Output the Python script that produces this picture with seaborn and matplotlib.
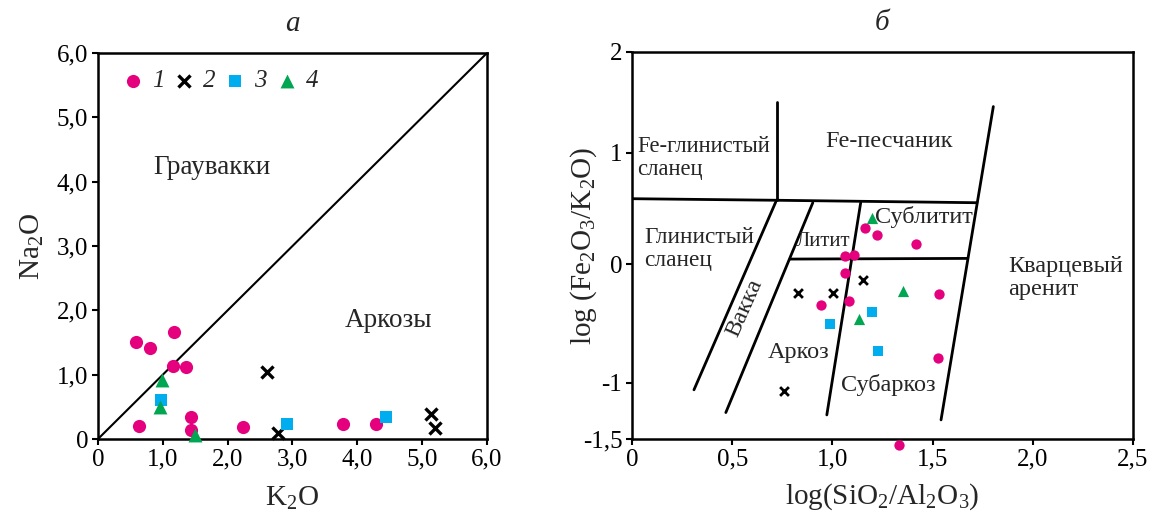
import numpy as np
import pandas as pd
import seaborn as sns
import matplotlib
matplotlib.use("Agg")
from matplotlib import pyplot as plt

sns.set_theme(style="ticks")
plt.rcParams['font.family'] = ['Liberation Serif', 'DejaVu Serif']
plt.rcParams['mathtext.fontset'] = 'custom'
plt.rcParams['mathtext.rm'] = 'Liberation Serif'
plt.rcParams['mathtext.it'] = 'Liberation Serif:italic'

PINK = "#E5007D"
CYAN = "#00AEEF"
GREEN = "#00A651"

# --- panel a: K2O vs Na2O ---
k2o_1 = [0.59, 0.80, 1.18, 1.15, 1.36, 0.63, 1.43, 1.44, 2.23, 3.78, 4.29]
na2o_1 = [1.51, 1.41, 1.66, 1.14, 1.12, 0.20, 0.34, 0.14, 0.19, 0.23, 0.24]
k2o_2 = [2.61, 2.77, 5.14, 5.20]
na2o_2 = [1.04, 0.10, 0.39, 0.17]
k2o_3 = [0.97, 2.92, 4.44]
na2o_3 = [0.61, 0.23, 0.34]
k2o_4 = [0.99, 0.96, 1.50]
na2o_4 = [0.92, 0.49, 0.06]

# --- panel b: log(SiO2/Al2O3) vs log(Fe2O3/K2O) ---
si_1 = [1.163, 1.224, 1.419, 1.064, 1.109, 1.061, 1.081, 0.943, 1.533, 1.527, 1.332]
fe_1 = [0.327, 0.264, 0.180, 0.072, 0.084, -0.074, -0.308, -0.342, -0.254, -0.791, -1.554]
si_2 = [0.830, 1.003, 1.151, 0.757]
fe_2 = [-0.240, -0.240, -0.136, -1.078]
si_3 = [0.987, 1.199, 1.229]
fe_3 = [-0.506, -0.407, -0.729]
si_4 = [1.199, 1.354, 1.134]
fe_4 = [0.414, -0.229, -0.466]

# field boundaries of the Herron diagram (x pairs, y pairs)
bounds_x = [[0.0, 0.722], [0.722, 1.721], [0.722, 0.722], [1.803, 1.542],
            [0.717, 0.309], [0.902, 0.468], [1.141, 0.972], [0.788, 1.675]]
bounds_y = [[0.586, 0.572], [0.572, 0.550], [1.507, 0.572], [1.457, -1.330],
            [0.556, -1.063], [0.550, -1.265], [0.550, -1.286], [0.045, 0.051]]

# the original y axis is drawn unevenly; reproduce its tick spacing
y_knots = [-3.0, -1.5, -1.0, 0.0, 1.0, 2.0, 4.0]
y_pos = [-168, 0, 56, 174, 285, 385, 585]


def fwd(v):
    return np.interp(v, y_knots, y_pos)


def inv(u):
    return np.interp(u, y_pos, y_knots)


groups = [("1", "o", PINK), ("2", "X", "black"), ("3", "s", CYAN), ("4", "^", GREEN)]

fig = plt.figure(figsize=(11.54, 5.23), dpi=100)
ax1 = fig.add_axes([0.0849, 0.1606, 0.3371, 0.738])
ax2 = fig.add_axes([0.5477, 0.1606, 0.4341, 0.740])

# panel a
data_a = [(k2o_1, na2o_1), (k2o_2, na2o_2), (k2o_3, na2o_3), (k2o_4, na2o_4)]
sizes_a = [90, 75, 80, 100]
for (lab, mk, col), (xs, ys), s in zip(groups, data_a, sizes_a):
    if mk == "X":
        sns.scatterplot(x=xs, y=ys, ax=ax1, marker="x", color=col, s=s,
                        linewidth=2.4, label=lab, clip_on=False, zorder=3)
    else:
        sns.scatterplot(x=xs, y=ys, ax=ax1, marker=mk, color=col, s=s,
                        linewidth=0, label=lab, clip_on=False, zorder=3)
ax1.plot([0, 6], [0, 6], color="black", lw=1.5, zorder=2)
ax1.set_xlim(0, 6)
ax1.set_ylim(0, 6)
ax1.set_xticks(range(7))
ax1.set_xticklabels(["0", "1,0", "2,0", "3,0", "4,0", "5,0", "6,0"])
ax1.set_yticks(range(7))
ax1.set_yticklabels(["0", "1,0", "2,0", "3,0", "4,0", "5,0", "6,0"])
ax1.set_xlabel(r"K$_\mathrm{2}$O", fontsize=21, labelpad=10)
ax1.set_ylabel(r"Na$_\mathrm{2}$O", fontsize=21, labelpad=8)
ax1.set_title("а", fontsize=21, style="italic", pad=16)
ax1.text(1.75, 4.22, "Граувакки", fontsize=19.5, ha="center", va="center")
ax1.text(4.48, 1.84, "Аркозы", fontsize=19.5, ha="center", va="center")
ax1.legend(loc="upper left", bbox_to_anchor=(0.0, 1.015), ncol=4, frameon=False,
           handletextpad=0.25, columnspacing=0.3, handlelength=1.0,
           prop={"style": "italic", "size": 18, "family": "Liberation Serif"})

# panel b
ax2.set_yscale("function", functions=(fwd, inv))
data_b = [(si_1, fe_1), (si_2, fe_2), (si_3, fe_3), (si_4, fe_4)]
sizes_b = [55, 40, 55, 65]
for (lab, mk, col), (xs, ys), s in zip(groups, data_b, sizes_b):
    if mk == "X":
        sns.scatterplot(x=xs, y=ys, ax=ax2, marker="x", color=col, s=s,
                        linewidth=2.0, clip_on=False, zorder=3)
    else:
        sns.scatterplot(x=xs, y=ys, ax=ax2, marker=mk, color=col, s=s,
                        linewidth=0, clip_on=False, zorder=3)
for bx, by in zip(bounds_x, bounds_y):
    ax2.plot(bx, by, color="black", lw=2.0, zorder=2)
ax2.set_xlim(0, 2.5)
ax2.set_ylim(-1.5, 2)
ax2.set_xticks([0, 0.5, 1.0, 1.5, 2.0, 2.5])
ax2.set_xticklabels(["0", "0,5", "1,0", "1,5", "2,0", "2,5"])
ax2.set_yticks([-1.5, -1, 0, 1, 2])
ax2.set_yticklabels(["-1,5", "-1", "0", "1", "2"])
ax2.set_xlabel(r"log(SiO$_\mathrm{2}$/Al$_\mathrm{2}$O$_\mathrm{3}$)", fontsize=21, labelpad=8)
ax2.set_ylabel(r"log (Fe$_\mathrm{2}$O$_\mathrm{3}$/K$_\mathrm{2}$O)", fontsize=21, labelpad=-12)
ax2.set_title("б", fontsize=21, style="italic", pad=16)

txt = dict(fontsize=17.5, va="center")
ax2.text(0.025, 0.95, "Fe-глинистый\nсланец", ha="left", linespacing=1.1,
         fontsize=16.3, va="center")
ax2.text(1.283, 1.11, "Fe-песчаник", ha="center", **txt)
ax2.text(0.06, 0.135, "Глинистый\nсланец", ha="left", linespacing=1.1,
         fontsize=16.8, va="center")
ax2.text(0.564, -0.367, "Вакка", ha="center", rotation=66, **txt)
ax2.text(0.953, 0.198, "Литит", ha="center", fontsize=15, va="center")
ax2.text(1.457, 0.423, "Сублитит", ha="center", **txt)
ax2.text(0.831, -0.746, "Аркоз", ha="center", **txt)
ax2.text(1.278, -1.018, "Субаркоз", ha="center", **txt)
ax2.text(1.876, -0.119, "Кварцевый\nаренит", ha="left", linespacing=1.1, **txt)

for ax in (ax1, ax2):
    ax.set_facecolor("white")
    for sp in ax.spines.values():
        sp.set_visible(True)
        sp.set_linewidth(1.8)
        sp.set_color("black")
    ax.tick_params(direction="out", length=4, width=1.5, labelsize=18, colors="black", pad=3)
    ax.grid(False)

plt.savefig("out.png", dpi=100)
